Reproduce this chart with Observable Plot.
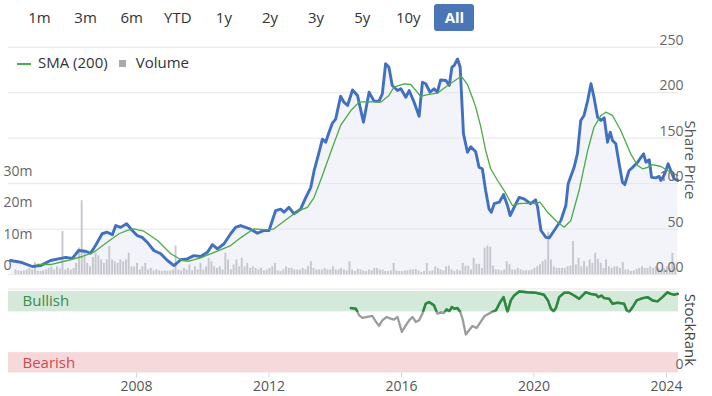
<!DOCTYPE html>
<html><head><meta charset="utf-8">
<script src="https://cdn.jsdelivr.net/npm/d3@7"></script>
<script src="https://cdn.jsdelivr.net/npm/@observablehq/plot@0.6"></script>
<style>
body{margin:0;background:#fff;font-family:"Open Sans",sans-serif;}
#wrap{position:relative;width:712px;height:396px;overflow:hidden;background:#fff;}
#wrap svg{position:absolute;left:0;top:0;}
.btn{position:absolute;top:4px;width:40px;height:27px;line-height:27px;font-size:15px;color:#333;text-align:center;border-radius:3px;}
.btn.on{background:#4a75b7;color:#fff;font-weight:bold;}
.lab{position:absolute;white-space:nowrap;font-size:15px;color:#555;transform:translate(-50%,-50%) rotate(90deg);}
#legend{position:absolute;left:17px;top:52px;font-size:15px;color:#333;white-space:nowrap;}
</style></head>
<body><div id="wrap"></div>
<script>
// ---------- data ----------
const ranges = ["1m","3m","6m","YTD","1y","2y","3y","5y","10y","All"];
const priceTicks = [0,50,100,150,200,250];
const volTicks = [0,10,20,30];           // millions
const yearTicks = [2008,2012,2016,2020,2024];

const priceT = [2004.19,2004.50,2004.85,2005.10,2005.40,2005.64,2005.86,2006.06,2006.25,2006.46,2006.61,2006.76,2006.96,2007.11,2007.27,2007.37,2007.52,2007.70,2007.87,2008.02,2008.17,2008.32,2008.52,2008.73,2008.93,2009.13,2009.33,2009.53,2009.73,2009.93,2010.14,2010.29,2010.44,2010.64,2010.84,2010.99,2011.14,2011.44,2011.65,2011.85,2012.00,2012.20,2012.35,2012.45,2012.60,2012.75,2012.95,2013.11,2013.26,2013.36,2013.51,2013.61,2013.71,2013.81,2013.91,2014.01,2014.16,2014.26,2014.37,2014.52,2014.67,2014.85,2015.02,2015.17,2015.32,2015.42,2015.52,2015.62,2015.72,2015.88,2015.98,2016.13,2016.23,2016.38,2016.53,2016.63,2016.73,2016.86,2016.98,2017.08,2017.18,2017.34,2017.44,2017.52,2017.59,2017.69,2017.77,2017.87,2017.99,2018.09,2018.24,2018.34,2018.44,2018.54,2018.64,2018.71,2018.80,2018.95,2019.08,2019.20,2019.28,2019.40,2019.55,2019.70,2019.90,2020.05,2020.11,2020.21,2020.36,2020.46,2020.61,2020.81,2020.96,2021.03,2021.21,2021.31,2021.41,2021.51,2021.62,2021.72,2021.81,2021.92,2022.02,2022.12,2022.22,2022.30,2022.37,2022.47,2022.57,2022.67,2022.74,2022.87,2022.98,2023.13,2023.23,2023.31,2023.38,2023.48,2023.55,2023.68,2023.78,2023.83,2023.95,2024.05,2024.15,2024.23,2024.34];
const priceV = [15.6,13.7,9,10,15.6,17.4,19,18,26.6,25.8,23.6,32,45,46.7,44,54,52,56,48.6,43,41,35.7,26.6,23,15.6,10,16.4,17.4,21,20,24.7,33,28.4,34,45,52,54,50,45.6,48.6,48.6,70.5,72,68.7,74,67,72,85,96,114.5,134.6,149,145.6,156.6,166.5,171,196,189.6,186,203,197,167.6,200.5,190.7,190.7,198.8,231.8,228,208,202.4,204.3,195,202.4,189.6,174,211.5,209.8,200.5,204.3,200.5,214,213.4,208,228,230,237,228,154.8,134.6,140.5,135,118,116.4,92.5,72.4,68.7,78,79.7,88,76,65,74,85,83.4,78,82.3,74,48.6,41,40.5,48.6,59.6,76,100,118,133,169.5,175,191.4,209.8,195,173,169.5,172.4,145.6,156.6,147.5,143.8,121.9,101.6,99,114.5,118,123.6,129,132.8,123.6,126.3,107,106.4,108,103.5,110.8,121.9,112.6,105.4,103.5];

const smaT = [2005.00,2005.40,2005.91,2006.36,2006.71,2007.11,2007.47,2007.72,2007.92,2008.22,2008.63,2009.03,2009.38,2009.58,2009.93,2010.44,2010.84,2011.14,2011.54,2011.95,2012.15,2012.55,2012.86,2013.16,2013.36,2013.61,2013.86,2014.16,2014.47,2014.72,2014.97,2015.37,2015.62,2015.77,2016.08,2016.28,2016.58,2016.78,2017.08,2017.39,2017.69,2017.81,2017.99,2018.19,2018.24,2018.39,2018.54,2018.69,2018.90,2019.10,2019.35,2019.55,2019.85,2020.05,2020.18,2020.41,2020.71,2020.91,2021.11,2021.36,2021.62,2021.81,2022.02,2022.17,2022.37,2022.62,2022.92,2023.13,2023.28,2023.43,2023.58,2023.83,2024.13,2024.34];
const smaV = [11.2,11.2,15.6,20,24.7,35.7,45,48.6,50.4,47.8,37.6,23,15.6,14.8,18.6,25.8,32,40.5,50.4,49.3,50.4,61.4,69.8,74,85,109,134.6,164,180.4,189.6,190.3,189.6,197,206,209.8,209,196,198,199.5,208,215.3,218,209,189.6,184,163,136.5,116.4,103.5,92.5,76,78,78.7,78,79.7,68.7,57.7,52.2,59.6,92.5,136.5,162,175,178.6,175,158.5,132.8,120,116.4,118,121,118.9,112.6,109];

const volumeStart = "2004-05";
const volume = [ // monthly, millions
 1.5,1.2,1.0,1.2,1.5,2.0,1.5,3.8,
 1.2,1.0,1.2,1.5,2.0,2.5,1.5,2.5,1.8,13.7,1.5,2.0,
 1.5,2.0,3.6,8.5,23.5,7.3,3.6,2.5,5.5,6.8,6.0,4.7,
 3.6,4.7,8.9,4.7,4.1,3.6,4.7,4.1,4.7,6.8,2.5,2.5,
 3.6,1.5,2.5,3.6,1.5,2.0,1.2,1.5,1.2,1.0,1.2,1.0,
 1.2,1.5,9.1,1.5,1.2,2.0,1.5,3.1,1.2,2.5,1.5,3.6,
 1.5,2.5,5.2,4.1,2.5,2.0,2.5,1.5,6.8,4.7,1.5,3.1,
 4.7,2.5,5.2,2.5,3.6,2.0,2.5,2.0,1.5,2.0,1.2,1.5,
 2.0,2.5,3.6,1.2,1.0,1.5,2.5,2.0,2.0,1.5,1.5,1.5,
 2.0,1.5,2.5,4.1,2.0,1.5,1.5,1.5,2.0,1.5,1.5,2.5,
 1.5,1.5,2.0,1.5,1.2,4.1,1.5,1.0,1.7,1.5,1.2,1.0,
 1.5,1.2,2.0,2.0,1.5,1.5,1.0,1.0,1.2,3.6,1.2,1.0,
 1.0,1.2,1.2,1.5,1.5,1.7,1.2,0.7,1.0,3.6,1.0,1.2,
 2.5,2.0,1.5,1.2,2.5,2.7,1.5,1.0,1.5,1.2,3.6,2.7,
 2.7,1.5,5.2,3.3,3.3,2.0,8.4,9.1,8.7,2.7,1.5,1.5,
 1.2,1.5,4.1,3.3,1.5,1.5,2.0,1.5,1.2,1.3,1.2,1.5,
 2.0,2.5,3.1,4.1,4.7,13.5,4.7,2.5,2.0,2.0,2.0,2.0,
 2.5,2.7,10.5,3.1,5.2,2.5,4.1,2.5,4.7,3.6,6.8,4.9,
 3.6,2.0,4.7,2.5,2.0,2.5,2.5,2.0,3.9,1.5,1.5,1.0,
 1.2,1.7,2.0,2.5,2.0,2.0,2.5,2.0,2.5,2.0,1.5,2.0,
 2.5,2.0,6.8,2.0];

const rankT = [2014.47,2014.62,2014.72,2014.82,2014.97,2015.12,2015.22,2015.32,2015.42,2015.55,2015.67,2015.77,2015.88,2016.01,2016.13,2016.23,2016.33,2016.43,2016.53,2016.63,2016.73,2016.83,2016.98,2017.08,2017.18,2017.28,2017.36,2017.44,2017.52,2017.59,2017.69,2017.77,2017.84,2017.94,2018.04,2018.14,2018.27,2018.39,2018.51,2018.64,2018.74,2018.85,2018.98,2019.08,2019.20,2019.30,2019.40,2019.55,2019.80,2020.05,2020.30,2020.42,2020.51,2020.59,2020.66,2020.76,2020.91,2021.06,2021.21,2021.36,2021.46,2021.56,2021.71,2021.87,2021.94,2022.04,2022.12,2022.27,2022.37,2022.52,2022.72,2022.80,2022.87,2022.98,2023.10,2023.28,2023.43,2023.58,2023.73,2023.88,2024.03,2024.13,2024.23,2024.34];
const rankV = [79.6,78.9,70.7,67.5,68.7,69.9,63.4,57.7,64.6,68.7,66.7,65.5,68.7,50.4,58.5,64.6,68.7,62.6,64.6,72.8,85,87,82.9,72.8,74,73.5,78,75.6,80.9,78.9,79.6,74.8,66.7,47.2,52.4,57.7,55.2,62.6,69.9,72.8,74.8,76.8,87,93,74.8,89,95,100,99,98.4,96,89,78.9,75.6,79.6,93,98.4,98.4,95,91,95,99,97,96,93,95,91.8,91,85,86.2,85,76.8,74.8,80.9,89,91.8,93,89,87.8,93,99,97,96,97];
const zones = [{name:"Bullish", lo:75, hi:100, fill:"#d4e9da", text:"#3a8a4a"},
               {name:"Bearish", lo:0, hi:25, fill:"#f6d9db", text:"#cf4a55"}];

// ---------- helpers ----------
const toDate = t => { const y = Math.floor(t), a = Date.UTC(y,0,1), b = Date.UTC(y+1,0,1); return new Date(a + (t - y) * (b - a)); };
const price = priceT.map((t,i) => ({date: toDate(t), v: priceV[i]}));
const sma = smaT.map((t,i) => ({date: toDate(t), v: smaV[i]}));
const rank = rankT.map((t,i) => ({date: toDate(t), v: rankV[i]}));
const v0 = d3.utcParse("%Y-%m")(volumeStart);
const vol = volume.map((v,i) => ({d1: d3.utcMonth.offset(v0, i), d2: d3.utcDay.offset(d3.utcMonth.offset(v0, i), 21), v}));
const xDomain = [toDate(2004.133), toDate(2024.363)];

const wrap = document.getElementById("wrap");
const FONT = "Open Sans, sans-serif";
const H = 290, mT = 46.7, mB = H - 274.2, mL = 8, mR = 34;
const base = {width:712, height:H, marginTop:mT, marginBottom:mB, marginLeft:mL, marginRight:mR,
  style:{background:"transparent", fontFamily:FONT, overflow:"visible"}};

// layer 1: grid + area
const p1 = Plot.plot({...base,
  x:{type:"utc", domain:xDomain, axis:null, label:null},
  y:{domain:[0,250], axis:null, label:null},
  marks:[
    Plot.areaY(price, {x:"date", y:"v", fill:"#f2f4fa"}),
    Plot.ruleY(priceTicks, {stroke:"#e6e6e6", strokeWidth:1})
  ]});
// layer 2: volume
const p2 = Plot.plot({...base,
  x:{type:"utc", domain:xDomain, axis:null, label:null},
  y:{domain:[0, 227.5/3.15], axis:null, label:null},
  marks:[
    Plot.rectY(vol, {x1:"d1", x2:"d2", y:"v", fill:"#c6c7ce"}),
    Plot.axisY(volTicks, {anchor:"left", label:null, tickSize:0, textAnchor:"start", dx:4, dy:-9, fontSize:14, fill:"#666",
      tickFormat: d => d === 0 ? "0" : d + "m"})
  ]});
// layer 3: price lines
const p3 = Plot.plot({...base,
  x:{type:"utc", domain:xDomain, axis:null, label:null},
  y:{domain:[0,250], axis:null, label:null},
  marks:[
    Plot.line(price, {x:"date", y:"v", stroke:"#4170c1", strokeWidth:2.9, strokeLinejoin:"round"}),
    Plot.line(sma, {x:"date", y:"v", stroke:"#4caa48", strokeWidth:1.3}),
    Plot.axisY(priceTicks, {anchor:"right", label:null, tickSize:0, textAnchor:"end", dx:-4, dy:-7, fontSize:14, fill:"#666",
      tickFormat: d => d === 0 ? "0.00" : String(d)})
  ]});
// layer 4: StockRank panel
const p4 = Plot.plot({width:712, height:396, marginTop:288.5, marginBottom:396-372.5, marginLeft:mL, marginRight:mR,
  style:{background:"transparent", fontFamily:FONT, overflow:"visible"},
  x:{type:"utc", domain:xDomain, axis:null, label:null},
  y:{domain:[0,103], axis:null, label:null},
  marks:[
    Plot.rectY(zones, {y1:"lo", y2:"hi", fill:"fill"}),
    Plot.frame({anchor:"top", stroke:"#e6e6e6"}),
    Plot.text(zones, {text:"name", y: d => (d.lo + d.hi)/2, frameAnchor:"left", dx:14, fill:"text", fontSize:15, textAnchor:"start"}),
    Plot.line(rank, {x:"date", y:"v", stroke:"#9c9c9c", strokeWidth:2.3}),
    Plot.line(rank, {x:"date", y:"v", stroke:"#2a8a3c", strokeWidth:2.5}),
    Plot.axisY([0], {anchor:"right", label:null, tickSize:0, textAnchor:"end", dx:-4, dy:-8, fontSize:14, fill:"#666"}),
    Plot.axisX(yearTicks.map(y => toDate(y)), {anchor:"bottom", label:null, tickSize:5, tickPadding:3, stroke:"#ccd6eb", fontSize:14, fill:"#555", tickFormat:d3.utcFormat("%Y")})
  ]});

[p1,p2,p3,p4].forEach(p => wrap.appendChild(p));

// clip the green StockRank line to the bullish zone
const ys = p4.scale("y");
const svg4 = d3.select(p4);
svg4.append("defs").append("clipPath").attr("id","bullclip")
  .append("rect").attr("x",0).attr("y",0).attr("width",712).attr("height", ys.apply(75));
const lines = svg4.selectAll('g[aria-label="line"]').nodes();
d3.select(lines[lines.length-1]).attr("clip-path","url(#bullclip)");

// range selector buttons
ranges.forEach((r,i) => {
  const b = document.createElement("div");
  b.className = "btn" + (r === "All" ? " on" : "");
  b.style.left = (19.5 + i*46.1) + "px";
  b.textContent = r;
  wrap.appendChild(b);
});
// legend
const lg = document.createElement("div");
lg.id = "legend";
lg.innerHTML = '<span style="display:inline-block;width:14px;height:2px;background:#4caa48;vertical-align:middle;margin-right:7px"></span>SMA (200)'
 + '<span style="display:inline-block;width:7px;height:7px;background:#a8a9b0;vertical-align:middle;margin:0 10px 0 11px"></span>Volume';
wrap.appendChild(lg);
// rotated axis titles
[["Share Price",691,160,"#555"],["StockRank",691,330,"#444"]].forEach(([t,x,y,c]) => {
  const d = document.createElement("div");
  d.className = "lab"; d.textContent = t; d.style.left = x+"px"; d.style.top = y+"px"; d.style.color = c;
  wrap.appendChild(d);
});
</script></body></html>
